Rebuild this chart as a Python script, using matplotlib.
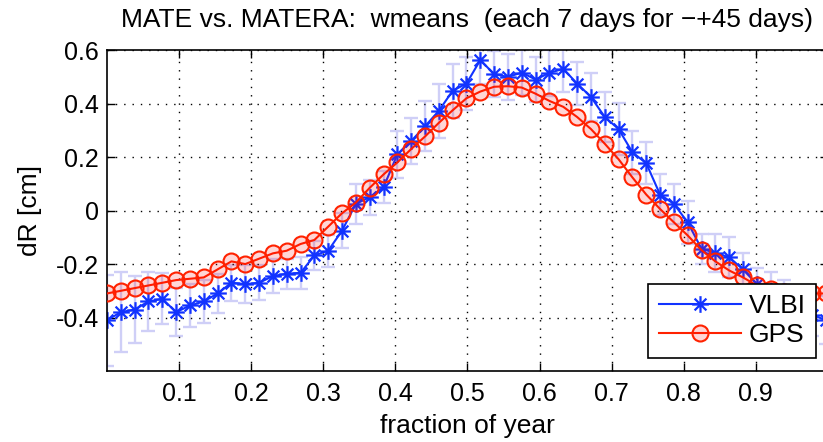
import numpy as np
import matplotlib
matplotlib.use("Agg")
import matplotlib.pyplot as plt
from matplotlib.path import Path

plt.rcParams['font.family'] = ['Liberation Sans', 'DejaVu Sans']

# day of year for each weekly mean
days = [0, 7, 14, 21, 28, 35, 42, 49, 56, 63, 70, 77, 84, 91, 98, 105, 112, 119,
        126, 133, 140, 147, 154, 161, 168, 175, 182, 189, 196, 203, 210, 217, 224,
        231, 238, 245, 252, 259, 266, 273, 280, 287, 294, 301, 308, 315, 322, 329,
        336, 343, 350, 357, 364]

vlbi = [-0.41, -0.38, -0.37, -0.34, -0.33, -0.38, -0.355, -0.34, -0.31, -0.27,
        -0.275, -0.27, -0.245, -0.236, -0.233, -0.168, -0.15, -0.075, 0.025, 0.05,
        0.087, 0.21, 0.26, 0.315, 0.373, 0.448, 0.475, 0.563, 0.51, 0.50,
        0.516, 0.49, 0.515, 0.53, 0.475, 0.425, 0.35, 0.305, 0.218, 0.177,
        0.06, 0.025, -0.044, -0.143, -0.158, -0.175, -0.22, -0.275, -0.30, -0.33,
        -0.36, -0.39, -0.41]

vlbi_err = [0.17, 0.15, 0.125, 0.11, 0.095, 0.09, 0.08, 0.08, 0.072, 0.068,
            0.072, 0.066, 0.065, 0.056, 0.06, 0.056, 0.06, 0.065, 0.075, 0.065,
            0.06, 0.087, 0.087, 0.093, 0.1, 0.1, 0.1, 0.09, 0.085, 0.085,
            0.085, 0.085, 0.085, 0.085, 0.08, 0.09, 0.095, 0.097, 0.08, 0.078,
            0.077, 0.075, 0.08, 0.056, 0.07, 0.075, 0.062, 0.062, 0.07, 0.07,
            0.075, 0.08, 0.09]

gps = [-0.31, -0.30, -0.29, -0.28, -0.27, -0.26, -0.255, -0.25, -0.22, -0.19,
       -0.20, -0.18, -0.16, -0.15, -0.125, -0.11, -0.06, -0.01, 0.03, 0.085,
       0.135, 0.18, 0.23, 0.277, 0.328, 0.375, 0.42, 0.445, 0.463, 0.465,
       0.46, 0.437, 0.41, 0.388, 0.35, 0.305, 0.25, 0.192, 0.124, 0.06,
       0.006, -0.044, -0.093, -0.148, -0.19, -0.224, -0.25, -0.28, -0.295, -0.305,
       -0.31, -0.31, -0.31]

xticks = [0.1, 0.2, 0.3, 0.4, 0.5, 0.6, 0.7, 0.8, 0.9]
yticks = [-0.4, -0.2, 0, 0.2, 0.4, 0.6]
ytick_labels = ['-0.4', '-0.2', '0', '0.2', '0.4', '0.6']

frac = np.array(days) / 365.0

# matlab style asterisk: + and x on top of each other
d = np.sqrt(0.5)
star = Path([(-1, 0), (1, 0), (0, -1), (0, 1), (-d, -d), (d, d), (-d, d), (d, -d)],
            [Path.MOVETO, Path.LINETO] * 4)

fig = plt.figure(figsize=(8.23, 4.42), dpi=100)
ax = fig.add_axes([0.130, 0.1606, 0.876, 0.726])

ax.errorbar(frac, vlbi, yerr=vlbi_err, fmt='none', ecolor='#cfcff7',
            elinewidth=1.7, capsize=5, capthick=1.7, zorder=1)
ax.plot(frac, vlbi, color='#1233ff', lw=1.5, marker=star, markersize=12,
        markeredgewidth=1.6, markerfacecolor='none', label='VLBI', zorder=2)
ax.plot(frac, gps, color='#ff2200', lw=1.5, marker='o', markersize=11.5,
        markeredgewidth=1.5, markeredgecolor='#ff2200',
        markerfacecolor=(1, 0, 0, 0.16), label='GPS', zorder=3)

ax.set_xlim(0, 1)
ax.set_ylim(-0.6, 0.6)
ax.set_xticks(xticks)
ax.set_xticklabels([str(t) for t in xticks])
ax.set_yticks(yticks)
ax.set_yticklabels(ytick_labels)
ax.tick_params(direction='in', length=6, width=1, top=True, right=True,
               labelsize=18)
ax.tick_params(axis='x', pad=8)
ax.tick_params(axis='y', pad=6)
for s in ax.spines.values():
    s.set_linewidth(1.2)
ax.grid(True, color='black', linestyle=(0, (1, 5)), linewidth=1)

ax.set_title('MATE vs. MATERA:  wmeans  (each 7 days for \u2212+45 days)',
             fontsize=19, pad=17)
ax.set_xlabel('fraction of year', fontsize=19, labelpad=6)
ax.set_ylabel('dR [cm]', fontsize=19, labelpad=10)

leg = ax.legend(loc='lower right', bbox_to_anchor=(816 / 823, (442 - 358) / 442),
                bbox_transform=fig.transFigure, borderaxespad=0, fontsize=19,
                handlelength=3.1, fancybox=False, framealpha=1, edgecolor='black',
                borderpad=0.4, labelspacing=0.2, handletextpad=0.3)
leg.get_frame().set_linewidth(1.2)

fig.savefig('out.png', dpi=100)
